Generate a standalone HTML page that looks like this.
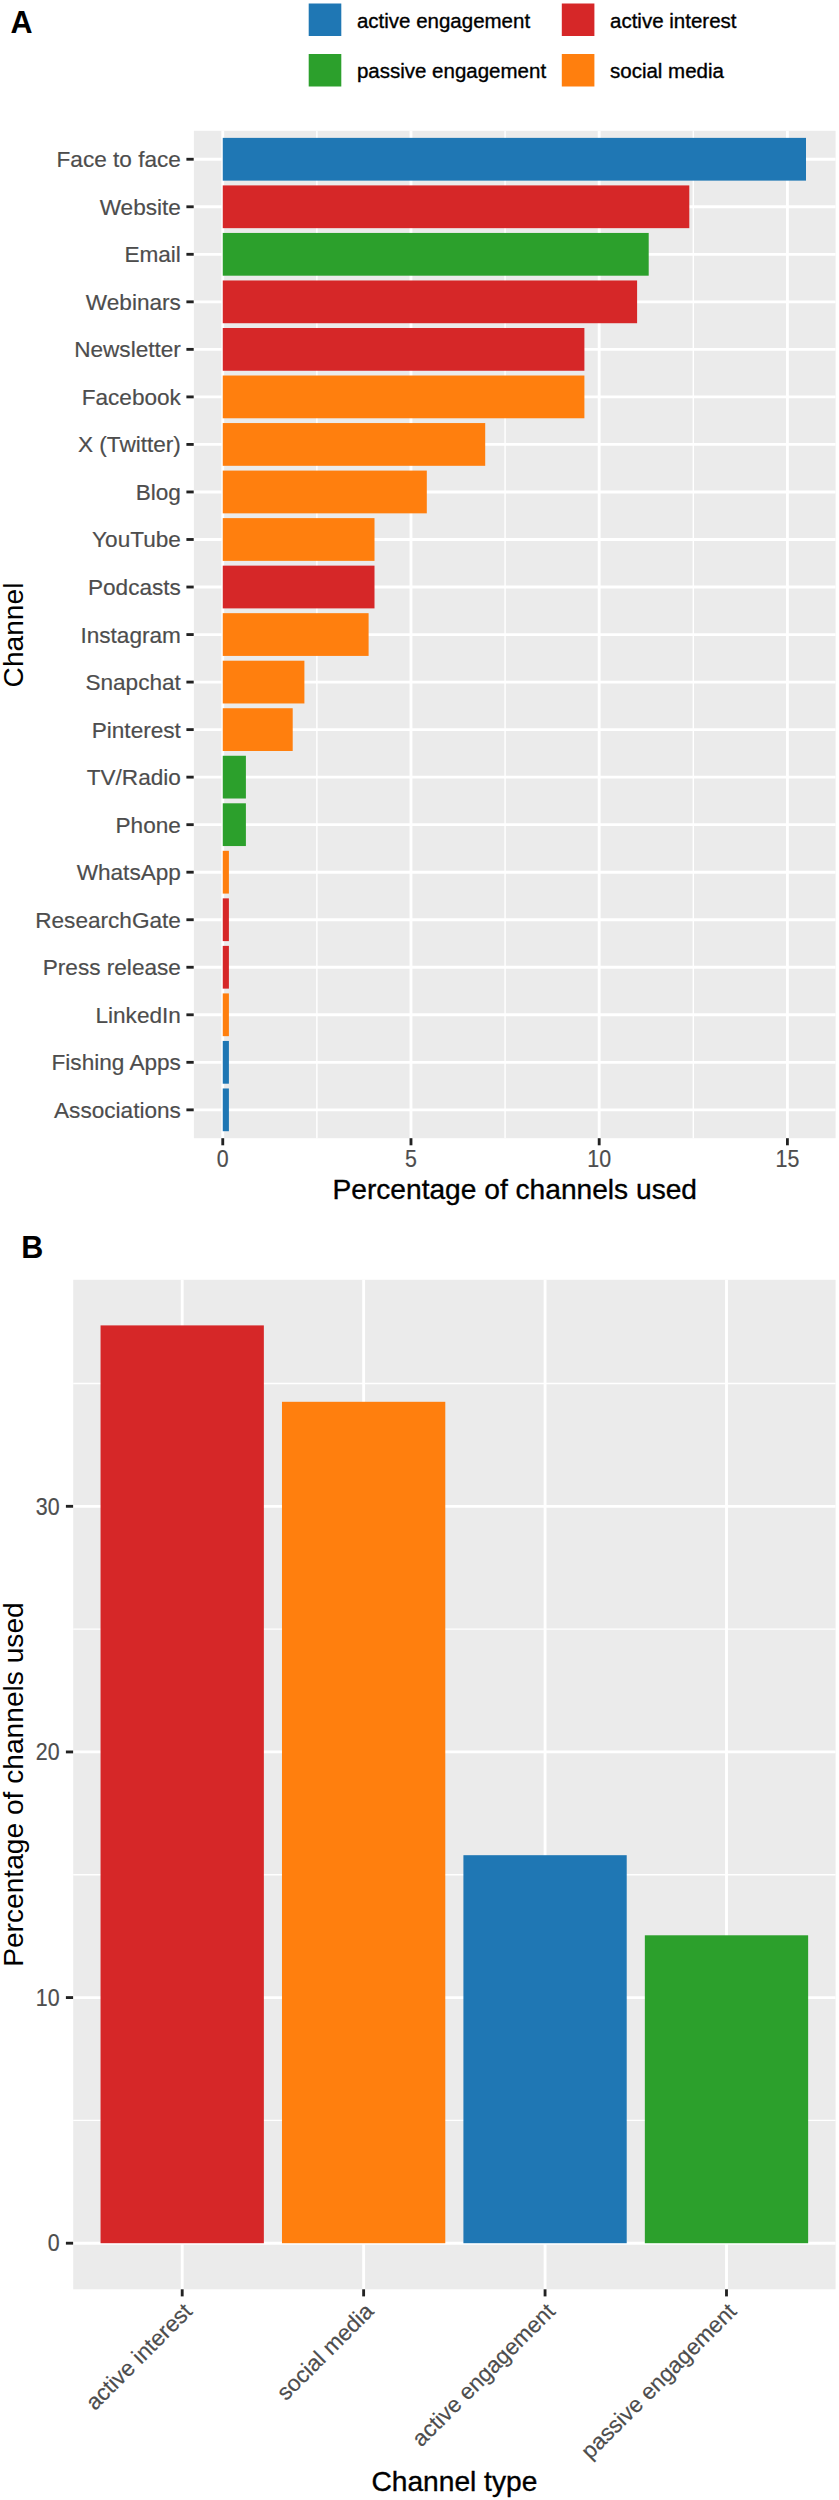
<!DOCTYPE html>
<html lang="en">
<head>
<meta charset="utf-8">
<title>Channels used</title>
<style>
html,body{margin:0;padding:0;background:#fff;}
body{width:839px;height:2500px;overflow:hidden;}
svg{display:block;font-family:"Liberation Sans",Arial,Helvetica,sans-serif;}
.ax{font-size:22.6px;fill:#4D4D4D;stroke:#4D4D4D;stroke-width:.18px;}
.dg{font-size:21.4px;}
.ti{font-size:28.15px;fill:#000;stroke:#000;stroke-width:.35px;}
.ns{stroke:none;}
.lg{font-size:20.5px;fill:#000;stroke:#000;stroke-width:.35px;}
.tag{font-size:30.5px;font-weight:bold;fill:#000;}
</style>
</head>
<body>
<svg width="839" height="2500" viewBox="0 0 839 2500">
<rect x="0" y="0" width="839" height="2500" fill="#fff"/>
<rect x="193.9" y="130.8" width="641.70" height="1007.40" fill="#EBEBEB"/>
<g stroke="#fff" stroke-width="1.45">
<line x1="316.87" y1="130.8" x2="316.87" y2="1138.2"/>
<line x1="505.08" y1="130.8" x2="505.08" y2="1138.2"/>
<line x1="693.30" y1="130.8" x2="693.30" y2="1138.2"/>
</g>
<g stroke="#fff" stroke-width="2.85">
<line x1="222.76" y1="130.8" x2="222.76" y2="1138.2"/>
<line x1="410.98" y1="130.8" x2="410.98" y2="1138.2"/>
<line x1="599.19" y1="130.8" x2="599.19" y2="1138.2"/>
<line x1="787.40" y1="130.8" x2="787.40" y2="1138.2"/>
<line x1="193.9" y1="159.25" x2="835.6" y2="159.25"/>
<line x1="193.9" y1="206.78" x2="835.6" y2="206.78"/>
<line x1="193.9" y1="254.31" x2="835.6" y2="254.31"/>
<line x1="193.9" y1="301.84" x2="835.6" y2="301.84"/>
<line x1="193.9" y1="349.37" x2="835.6" y2="349.37"/>
<line x1="193.9" y1="396.90" x2="835.6" y2="396.90"/>
<line x1="193.9" y1="444.43" x2="835.6" y2="444.43"/>
<line x1="193.9" y1="491.96" x2="835.6" y2="491.96"/>
<line x1="193.9" y1="539.49" x2="835.6" y2="539.49"/>
<line x1="193.9" y1="587.02" x2="835.6" y2="587.02"/>
<line x1="193.9" y1="634.55" x2="835.6" y2="634.55"/>
<line x1="193.9" y1="682.08" x2="835.6" y2="682.08"/>
<line x1="193.9" y1="729.61" x2="835.6" y2="729.61"/>
<line x1="193.9" y1="777.14" x2="835.6" y2="777.14"/>
<line x1="193.9" y1="824.67" x2="835.6" y2="824.67"/>
<line x1="193.9" y1="872.20" x2="835.6" y2="872.20"/>
<line x1="193.9" y1="919.73" x2="835.6" y2="919.73"/>
<line x1="193.9" y1="967.26" x2="835.6" y2="967.26"/>
<line x1="193.9" y1="1014.79" x2="835.6" y2="1014.79"/>
<line x1="193.9" y1="1062.32" x2="835.6" y2="1062.32"/>
<line x1="193.9" y1="1109.85" x2="835.6" y2="1109.85"/>
</g>
<rect x="222.76" y="137.88" width="583.24" height="42.75" fill="#1F77B4"/>
<rect x="222.76" y="185.41" width="466.54" height="42.75" fill="#D62728"/>
<rect x="222.76" y="232.94" width="425.94" height="42.75" fill="#2CA02C"/>
<rect x="222.76" y="280.47" width="414.34" height="42.75" fill="#D62728"/>
<rect x="222.76" y="328.00" width="361.64" height="42.75" fill="#D62728"/>
<rect x="222.76" y="375.52" width="361.64" height="42.75" fill="#FF7F0E"/>
<rect x="222.76" y="423.06" width="262.44" height="42.75" fill="#FF7F0E"/>
<rect x="222.76" y="470.59" width="204.04" height="42.75" fill="#FF7F0E"/>
<rect x="222.76" y="518.12" width="151.74" height="42.75" fill="#FF7F0E"/>
<rect x="222.76" y="565.64" width="151.74" height="42.75" fill="#D62728"/>
<rect x="222.76" y="613.17" width="145.84" height="42.75" fill="#FF7F0E"/>
<rect x="222.76" y="660.71" width="81.64" height="42.75" fill="#FF7F0E"/>
<rect x="222.76" y="708.24" width="69.94" height="42.75" fill="#FF7F0E"/>
<rect x="222.76" y="755.76" width="23.14" height="42.75" fill="#2CA02C"/>
<rect x="222.76" y="803.30" width="23.14" height="42.75" fill="#2CA02C"/>
<rect x="222.76" y="850.83" width="6.14" height="42.75" fill="#FF7F0E"/>
<rect x="222.76" y="898.36" width="6.14" height="42.75" fill="#D62728"/>
<rect x="222.76" y="945.88" width="6.14" height="42.75" fill="#D62728"/>
<rect x="222.76" y="993.41" width="6.14" height="42.75" fill="#FF7F0E"/>
<rect x="222.76" y="1040.95" width="6.14" height="42.75" fill="#1F77B4"/>
<rect x="222.76" y="1088.47" width="6.14" height="42.75" fill="#1F77B4"/>
<g stroke="#222" stroke-width="2.85">
<line x1="186.40" y1="159.25" x2="193.70" y2="159.25"/>
<line x1="186.40" y1="206.78" x2="193.70" y2="206.78"/>
<line x1="186.40" y1="254.31" x2="193.70" y2="254.31"/>
<line x1="186.40" y1="301.84" x2="193.70" y2="301.84"/>
<line x1="186.40" y1="349.37" x2="193.70" y2="349.37"/>
<line x1="186.40" y1="396.90" x2="193.70" y2="396.90"/>
<line x1="186.40" y1="444.43" x2="193.70" y2="444.43"/>
<line x1="186.40" y1="491.96" x2="193.70" y2="491.96"/>
<line x1="186.40" y1="539.49" x2="193.70" y2="539.49"/>
<line x1="186.40" y1="587.02" x2="193.70" y2="587.02"/>
<line x1="186.40" y1="634.55" x2="193.70" y2="634.55"/>
<line x1="186.40" y1="682.08" x2="193.70" y2="682.08"/>
<line x1="186.40" y1="729.61" x2="193.70" y2="729.61"/>
<line x1="186.40" y1="777.14" x2="193.70" y2="777.14"/>
<line x1="186.40" y1="824.67" x2="193.70" y2="824.67"/>
<line x1="186.40" y1="872.20" x2="193.70" y2="872.20"/>
<line x1="186.40" y1="919.73" x2="193.70" y2="919.73"/>
<line x1="186.40" y1="967.26" x2="193.70" y2="967.26"/>
<line x1="186.40" y1="1014.79" x2="193.70" y2="1014.79"/>
<line x1="186.40" y1="1062.32" x2="193.70" y2="1062.32"/>
<line x1="186.40" y1="1109.85" x2="193.70" y2="1109.85"/>
<line x1="222.76" y1="1138.2" x2="222.76" y2="1145.30"/>
<line x1="410.98" y1="1138.2" x2="410.98" y2="1145.30"/>
<line x1="599.19" y1="1138.2" x2="599.19" y2="1145.30"/>
<line x1="787.40" y1="1138.2" x2="787.40" y2="1145.30"/>
</g>
<g class="ax" text-anchor="end">
<text x="180.9" y="167.25">Face to face</text>
<text x="180.9" y="214.78">Website</text>
<text x="180.9" y="262.31">Email</text>
<text x="180.9" y="309.84">Webinars</text>
<text x="180.9" y="357.37">Newsletter</text>
<text x="180.9" y="404.90">Facebook</text>
<text x="180.9" y="452.43">X (Twitter)</text>
<text x="180.9" y="499.96">Blog</text>
<text x="180.9" y="547.49">YouTube</text>
<text x="180.9" y="595.02">Podcasts</text>
<text x="180.9" y="642.55">Instagram</text>
<text x="180.9" y="690.08">Snapchat</text>
<text x="180.9" y="737.61">Pinterest</text>
<text x="180.9" y="785.14">TV/Radio</text>
<text x="180.9" y="832.67">Phone</text>
<text x="180.9" y="880.20">WhatsApp</text>
<text x="180.9" y="927.73">ResearchGate</text>
<text x="180.9" y="975.26">Press release</text>
<text x="180.9" y="1022.79">LinkedIn</text>
<text x="180.9" y="1070.32">Fishing Apps</text>
<text x="180.9" y="1117.85">Associations</text>
</g>
<g class="ax" text-anchor="middle">
<text class="dg" transform="translate(222.76,1167.3) scale(1,1.09)">0</text>
<text class="dg" transform="translate(410.98,1167.3) scale(1,1.09)">5</text>
<text class="dg" transform="translate(599.19,1167.3) scale(1,1.09)">10</text>
<text class="dg" transform="translate(787.40,1167.3) scale(1,1.09)">15</text>
</g>
<text class="ti" text-anchor="middle" x="514.75" y="1199.0">Percentage of channels used</text>
<text class="ti ns" text-anchor="middle" transform="translate(22.9,635.00) rotate(-90)">Channel</text>
<text class="tag" x="10.4" y="33.1">A</text>
<rect x="308.70" y="3.50" width="32.6" height="32.5" fill="#1F77B4"/>
<text class="lg" x="356.90" y="27.80">active engagement</text>
<rect x="308.70" y="54.00" width="32.6" height="32.5" fill="#2CA02C"/>
<text class="lg" x="356.90" y="78.30">passive engagement</text>
<rect x="561.80" y="3.50" width="32.6" height="32.5" fill="#D62728"/>
<text class="lg" x="610.00" y="27.80">active interest</text>
<rect x="561.80" y="54.00" width="32.6" height="32.5" fill="#FF7F0E"/>
<text class="lg" x="610.00" y="78.30">social media</text>
<rect x="73.2" y="1279.8" width="762.40" height="1009.50" fill="#EBEBEB"/>
<g stroke="#fff" stroke-width="1.45">
<line x1="73.2" y1="2120.38" x2="835.6" y2="2120.38"/>
<line x1="73.2" y1="1874.75" x2="835.6" y2="1874.75"/>
<line x1="73.2" y1="1629.12" x2="835.6" y2="1629.12"/>
<line x1="73.2" y1="1383.49" x2="835.6" y2="1383.49"/>
</g>
<g stroke="#fff" stroke-width="2.85">
<line x1="73.2" y1="2243.20" x2="835.6" y2="2243.20"/>
<line x1="73.2" y1="1997.57" x2="835.6" y2="1997.57"/>
<line x1="73.2" y1="1751.94" x2="835.6" y2="1751.94"/>
<line x1="73.2" y1="1506.31" x2="835.6" y2="1506.31"/>
<line x1="182.20" y1="1279.8" x2="182.20" y2="2289.3"/>
<line x1="363.63" y1="1279.8" x2="363.63" y2="2289.3"/>
<line x1="545.06" y1="1279.8" x2="545.06" y2="2289.3"/>
<line x1="726.49" y1="1279.8" x2="726.49" y2="2289.3"/>
</g>
<rect x="100.55" y="1325.4" width="163.3" height="917.80" fill="#D62728"/>
<rect x="281.98" y="1401.8" width="163.3" height="841.40" fill="#FF7F0E"/>
<rect x="463.41" y="1855.2" width="163.3" height="388.00" fill="#1F77B4"/>
<rect x="644.84" y="1935.3" width="163.3" height="307.90" fill="#2CA02C"/>
<g stroke="#222" stroke-width="2.85">
<line x1="65.90" y1="2243.20" x2="73.10" y2="2243.20"/>
<line x1="65.90" y1="1997.57" x2="73.10" y2="1997.57"/>
<line x1="65.90" y1="1751.94" x2="73.10" y2="1751.94"/>
<line x1="65.90" y1="1506.31" x2="73.10" y2="1506.31"/>
<line x1="182.20" y1="2289.3" x2="182.20" y2="2296.40"/>
<line x1="363.63" y1="2289.3" x2="363.63" y2="2296.40"/>
<line x1="545.06" y1="2289.3" x2="545.06" y2="2296.40"/>
<line x1="726.49" y1="2289.3" x2="726.49" y2="2296.40"/>
</g>
<g class="ax" text-anchor="end">
<text class="dg" transform="translate(59.6,2251.40) scale(1,1.09)">0</text>
<text class="dg" transform="translate(59.6,2005.77) scale(1,1.09)">10</text>
<text class="dg" transform="translate(59.6,1760.14) scale(1,1.09)">20</text>
<text class="dg" transform="translate(59.6,1514.51) scale(1,1.09)">30</text>
</g>
<g class="ax" text-anchor="end">
<text transform="translate(193.50,2312.70) rotate(-45)">active interest</text>
<text transform="translate(374.93,2312.70) rotate(-45)">social media</text>
<text transform="translate(556.36,2312.70) rotate(-45)">active engagement</text>
<text transform="translate(737.79,2312.70) rotate(-45)">passive engagement</text>
</g>
<text class="ti" text-anchor="middle" x="454.40" y="2491.0">Channel type</text>
<text class="ti ns" text-anchor="middle" transform="translate(22.6,1784.55) rotate(-90)">Percentage of channels used</text>
<text class="tag" x="21.2" y="1258.0">B</text>
</svg>
</body>
</html>
